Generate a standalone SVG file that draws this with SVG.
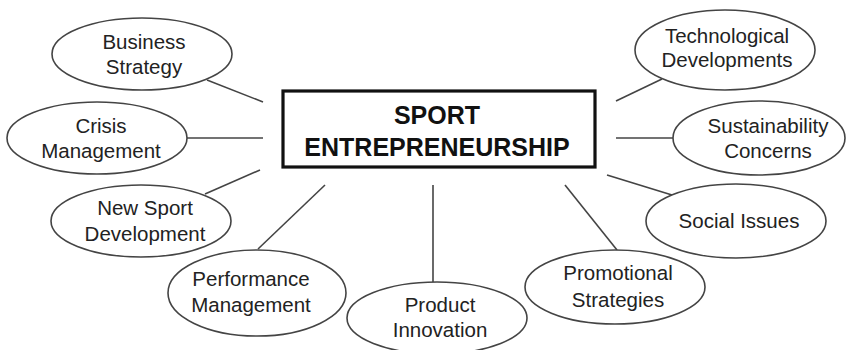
<svg xmlns="http://www.w3.org/2000/svg" width="846" height="350" viewBox="0 0 846 350">
  <style>
    .bubble { fill: #ffffff; stroke: #444444; stroke-width: 1.6; }
    .label { font-family: "Liberation Sans", Arial, sans-serif; font-size: 20.5px; fill: #222222; text-anchor: middle; }
    .title { font-family: "Liberation Sans", Arial, sans-serif; font-size: 25px; font-weight: bold; fill: #111111; text-anchor: middle; }
    .link { stroke: #444444; stroke-width: 1.6; fill: none; }
  </style>
  <rect width="846" height="350" fill="#ffffff"/>

  <!-- connectors between the central box and the surrounding topics -->
  <g id="connectors">
    <line class="link" x1="207" y1="80" x2="263" y2="102"/>
    <line class="link" x1="187" y1="138" x2="263" y2="138"/>
    <line class="link" x1="260" y1="170" x2="205" y2="194"/>
    <line class="link" x1="325" y1="185" x2="258" y2="249"/>
    <line class="link" x1="433" y1="185" x2="433" y2="282"/>
    <line class="link" x1="565" y1="185" x2="617" y2="250"/>
    <line class="link" x1="607" y1="175" x2="672" y2="195"/>
    <line class="link" x1="616" y1="138" x2="673" y2="138"/>
    <line class="link" x1="616" y1="101" x2="662" y2="79"/>
  </g>

  <!-- central box -->
  <g id="sport-entrepreneurship">
    <rect x="283" y="91" width="312" height="76" fill="#ffffff" stroke="#111111" stroke-width="3.2"/>
    <text class="title" x="437" y="124">SPORT</text>
    <text class="title" x="437" y="156">ENTREPRENEURSHIP</text>
  </g>

  <g id="business-strategy">
    <ellipse class="bubble" cx="142" cy="54" rx="90" ry="36"/>
    <text class="label" x="144" y="49">Business</text>
    <text class="label" x="144" y="74">Strategy</text>
  </g>

  <g id="crisis-management">
    <ellipse class="bubble" cx="97" cy="138" rx="90" ry="36"/>
    <text class="label" x="101" y="133">Crisis</text>
    <text class="label" x="101" y="158">Management</text>
  </g>

  <g id="new-sport-development">
    <ellipse class="bubble" cx="141" cy="221" rx="90" ry="36"/>
    <text class="label" x="145" y="215">New Sport</text>
    <text class="label" x="145" y="241">Development</text>
  </g>

  <g id="performance-management">
    <ellipse class="bubble" cx="257" cy="293" rx="89" ry="43"/>
    <text class="label" x="251" y="286">Performance</text>
    <text class="label" x="251" y="312">Management</text>
  </g>

  <g id="product-innovation">
    <ellipse class="bubble" cx="437" cy="318" rx="90" ry="36"/>
    <text class="label" x="440" y="312">Product</text>
    <text class="label" x="440" y="337">Innovation</text>
  </g>

  <g id="promotional-strategies">
    <ellipse class="bubble" cx="615" cy="287" rx="90" ry="37"/>
    <text class="label" x="618" y="280">Promotional</text>
    <text class="label" x="618" y="307">Strategies</text>
  </g>

  <g id="social-issues">
    <ellipse class="bubble" cx="736" cy="221" rx="90" ry="37"/>
    <text class="label" x="739" y="228">Social Issues</text>
  </g>

  <g id="sustainability-concerns">
    <ellipse class="bubble" cx="759" cy="138" rx="86" ry="37"/>
    <text class="label" x="768" y="133">Sustainability</text>
    <text class="label" x="768" y="158">Concerns</text>
  </g>

  <g id="technological-developments">
    <ellipse class="bubble" cx="725" cy="50" rx="90" ry="40"/>
    <text class="label" x="727" y="43">Technological</text>
    <text class="label" x="727" y="67">Developments</text>
  </g>
</svg>
